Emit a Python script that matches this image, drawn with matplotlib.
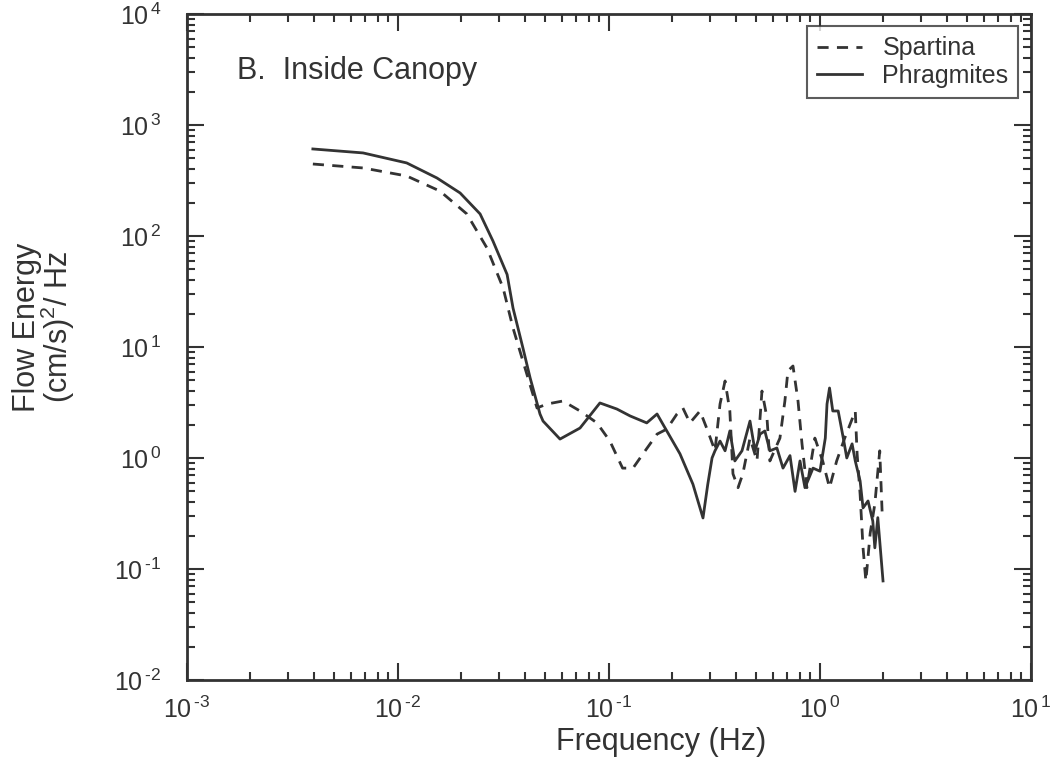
import math
import matplotlib
matplotlib.use("Agg")
import matplotlib.pyplot as plt
from matplotlib.ticker import LogLocator, FuncFormatter, NullFormatter

plt.rcParams['font.family'] = ['Liberation Sans', 'DejaVu Sans']
plt.rcParams['mathtext.default'] = 'regular'

# Phragmites (solid)
phrag_f = [0.00395, 0.00683, 0.0110, 0.0153, 0.0197, 0.0245, 0.0282, 0.0329, 0.0351,
           0.0391, 0.0423, 0.0436, 0.0471, 0.0487, 0.0586, 0.0729, 0.0906, 0.109,
           0.126, 0.151, 0.169, 0.180, 0.217, 0.250, 0.279, 0.294, 0.308, 0.318,
           0.336, 0.355, 0.374, 0.395, 0.427, 0.466, 0.492, 0.520, 0.548, 0.579,
           0.625, 0.668, 0.721, 0.762, 0.804, 0.849, 0.927, 1.00, 1.06, 1.08,
           1.11, 1.15, 1.22, 1.29, 1.34, 1.42, 1.47, 1.55, 1.60, 1.69, 1.78,
           1.82, 1.88, 1.99]
phrag_e = [608, 560, 455, 333, 244, 158, 90, 45, 22.4,
           9.8, 5.26, 4.27, 2.49, 2.15, 1.48, 1.86, 3.13, 2.76,
           2.39, 2.07, 2.49, 2.02, 1.09, 0.58, 0.288, 0.58, 1.0, 1.16,
           1.42, 1.16, 1.75, 0.94, 1.16, 2.15, 1.16, 1.64, 1.75, 1.16,
           1.23, 0.81, 1.05, 0.50, 0.94, 0.54, 0.81, 0.76, 1.51, 3.06,
           4.27, 2.65, 2.65, 1.51, 1.0, 1.34, 0.94, 0.62, 0.355, 0.41, 0.27,
           0.155, 0.29, 0.078]

# Spartina (dashed)
spart_f = [0.00395, 0.00683, 0.0110, 0.0158, 0.0212, 0.0264, 0.0315, 0.0351, 0.0408,
           0.0456, 0.0508, 0.0605, 0.0729, 0.0877, 0.101, 0.116, 0.130, 0.145,
           0.169, 0.188, 0.210, 0.224, 0.242, 0.270, 0.294, 0.318, 0.336, 0.355,
           0.374, 0.387, 0.409, 0.431, 0.466, 0.503, 0.531, 0.561, 0.579, 0.646,
           0.682, 0.705, 0.745, 0.787, 0.822, 0.867, 0.946, 1.03, 1.11, 1.20,
           1.31, 1.47, 1.50, 1.55, 1.60, 1.65, 1.73, 1.82, 1.92, 1.97]
spart_e = [445, 410, 347, 254, 158, 78, 34, 14.8, 5.7,
           2.82, 3.06, 3.26, 2.65, 2.07, 1.42, 0.81, 0.81, 1.09,
           1.64, 1.82, 2.49, 2.82, 2.07, 2.65, 1.75, 1.16, 3.06, 4.94,
           2.65, 0.72, 0.54, 0.72, 1.51, 0.94, 4.01, 2.29, 0.94, 1.51,
           3.26, 6.08, 6.74, 3.26, 1.34, 0.54, 1.51, 0.94, 0.54, 0.94,
           1.51, 2.65, 1.09, 0.47, 0.155, 0.078, 0.21, 0.385, 1.16, 0.33]

ink = '#333333'

fig = plt.figure(figsize=(10.6, 7.64), dpi=100)
ax = fig.add_axes([0.1764, 0.110, 0.7962, 0.8717])

ax.plot(spart_f, spart_e, color=ink, lw=2, ls=(0, (4, 3)), label='Spartina')
ax.plot(phrag_f, phrag_e, color=ink, lw=2, ls='-', label='Phragmites')

ax.set_xscale('log')
ax.set_yscale('log')
ax.set_xlim(1e-3, 1e1)
ax.set_ylim(1e-2, 1e4)


def fmt(v, pos):
    p = round(math.log10(v))
    s = str(p).replace('-', '\u2010')
    return '10$^{\\,' + s + '}$'


for a in (ax.xaxis, ax.yaxis):
    a.set_major_locator(LogLocator(base=10, numticks=10))
    a.set_minor_locator(LogLocator(base=10, subs=range(2, 10), numticks=100))
    a.set_major_formatter(FuncFormatter(fmt))
    a.set_minor_formatter(NullFormatter())

ax.tick_params(which='both', direction='in', top=True, right=True, width=1.5,
               labelsize=18, colors=ink)
ax.tick_params(which='major', length=12)
ax.tick_params(axis='x', which='major', pad=12)
ax.tick_params(axis='y', which='major', pad=18)
ax.tick_params(which='minor', length=6)
for s in ax.spines.values():
    s.set_linewidth(2)
    s.set_color(ink)

ax.set_xlabel('Frequency (Hz)', fontsize=22, color=ink)
ax.xaxis.set_label_coords(0.5616, -0.07)
ax.set_ylabel('Flow Energy\n(cm/s)$^2$/ Hz', fontsize=22, color=ink, linespacing=0.9)
ax.yaxis.set_label_coords(-0.13, 0.53)

ax.text(0.059, 0.915, 'B.  Inside Canopy', transform=ax.transAxes, fontsize=22,
        color=ink, va='center')

leg = ax.legend(loc='upper right', fontsize=18, frameon=True, fancybox=False,
                edgecolor=ink, handlelength=1.8, borderaxespad=0.5,
                labelspacing=0.15, handletextpad=0.8, borderpad=0.4)
leg.get_frame().set_linewidth(1.5)
for t in leg.get_texts():
    t.set_color(ink)

fig.savefig('out.png', dpi=100)
